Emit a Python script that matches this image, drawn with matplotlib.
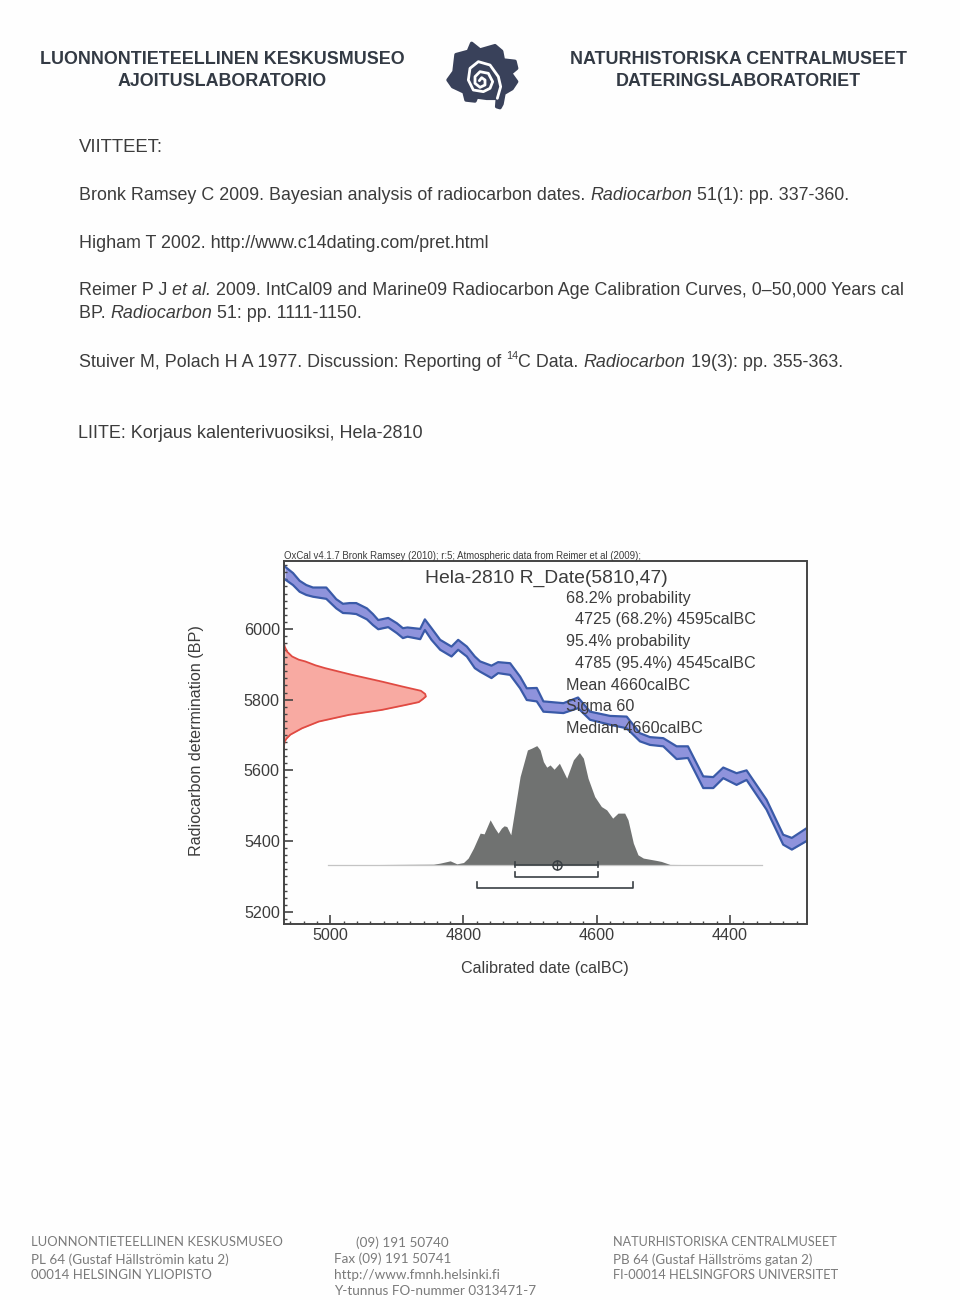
import numpy as np
import matplotlib
matplotlib.use('Agg')
import matplotlib.pyplot as plt
from matplotlib.ticker import MultipleLocator

plt.rcParams['font.family'] = ['Liberation Sans', 'DejaVu Sans']

# calibration curve, upper and lower edge of the band
curve_bc = [5068, 5056, 5046, 5036, 5026, 5006, 4991, 4981, 4971, 4961, 4945, 4936, 4928, 4913, 4900, 4891, 4884, 4865, 4858,
            4848, 4835, 4818, 4808, 4795, 4783, 4775, 4758, 4748, 4730, 4715, 4705, 4690, 4680, 4650, 4628, 4610,
            4580, 4555, 4535, 4520, 4500, 4480, 4463, 4440, 4425, 4410, 4390, 4375, 4345, 4320, 4307, 4286]
curve_top = [6176, 6158, 6136, 6124, 6117, 6117, 6084, 6071, 6073, 6073, 6058, 6042, 6025, 6031, 6016, 6002, 6004, 6000, 6027,
             6002, 5969, 5950, 5969, 5950, 5922, 5908, 5896, 5906, 5903, 5865, 5832, 5833, 5795, 5790, 5806, 5766,
             5754, 5752, 5705, 5694, 5691, 5668, 5668, 5583, 5581, 5608, 5592, 5600, 5517, 5418, 5409, 5435]
curve_low = [6140, 6124, 6105, 6096, 6091, 6085, 6058, 6045, 6044, 6042, 6027, 6011, 5999, 6005, 5988, 5974, 5978, 5971, 5997,
             5969, 5941, 5922, 5941, 5922, 5889, 5879, 5861, 5875, 5870, 5832, 5799, 5795, 5766, 5762, 5776, 5743,
             5729, 5719, 5682, 5672, 5668, 5632, 5635, 5550, 5550, 5578, 5559, 5573, 5489, 5390, 5376, 5399]

# radiocarbon date on the y axis
date_bp = [5960, 5950, 5936, 5922, 5913, 5908, 5897, 5889, 5870, 5851, 5837, 5825, 5816, 5809, 5802, 5793, 5785,
           5771, 5757, 5738, 5719, 5701, 5690, 5682, 5672, 5663]
date_prob = [0, .005, .021, .057, .104, .15, .222, .29, .48, .69, .835, .965, .995, 1, .98, .95, .858,
             .69, .458, .245, .127, .045, .018, .005, .001, 0]

# calibrated distribution
post_bc = [5004, 4845, 4835, 4820, 4810, 4800, 4793, 4785, 4775, 4769, 4760, 4753, 4748, 4743, 4739, 4735,
           4729, 4723, 4715, 4704, 4698, 4690, 4685, 4680, 4675, 4670, 4664, 4656, 4645, 4635, 4626, 4620,
           4613, 4603, 4593, 4585, 4576, 4568, 4558, 4553, 4545, 4538, 4530, 4510, 4503, 4490, 4460, 4352]
post_prob = [0, .005, .014, .033, .008, .019, .056, .139, .264, .258, .375, .306, .264, .306, .325, .319,
             .25, .458, .736, .958, .972, .994, .958, .86, .814, .833, .797, .847, .722, .875, .936, .889,
             .722, .569, .486, .458, .389, .431, .431, .375, .181, .083, .056, .036, .028, .003, .002, 0]

range_68 = [4722, 4598]
range_95 = [4780, 4546]
mean_bc = 4660

stats = ['68.2% probability', '  4725 (68.2%) 4595calBC', '95.4% probability', '  4785 (95.4%) 4545calBC',
         'Mean 4660calBC', 'Sigma 60', 'Median 4660calBC']

W, H = 960, 1300
TXT = '#3c3c3c'

fig = plt.figure(figsize=(9.6, 13), dpi=100, facecolor='#fefefe')


def put(x, y, s, size=13, color=TXT, **kw):
    return fig.text(x / W, 1 - y / H, s, fontsize=size, color=color, va='center', **kw)


def put_parts(x, y, parts, size=12.92):
    # parts are (text, style), drawn one after the other
    rend = fig.canvas.get_renderer()
    for s, style in parts:
        if style == 'sup':
            t = put(x, y - 6, s, size=size * 0.6)
        else:
            t = put(x, y, s, size=size, style=style)
        x = t.get_window_extent(rend).x1


# header
HEAD = '#333a44'
put(222, 60, 'LUONNONTIETEELLINEN KESKUSMUSEO', size=12.9, weight='bold', ha='center', color=HEAD)
put(222, 81, 'AJOITUSLABORATORIO', size=12.9, weight='bold', ha='center', color=HEAD)
put(738, 60, 'NATURHISTORISKA CENTRALMUSEET', size=12.9, weight='bold', ha='center', color=HEAD)
put(738, 81, 'DATERINGSLABORATORIET', size=12.9, weight='bold', ha='center', color=HEAD)

# logo
logo = fig.add_axes([0, 0, 1, 1], facecolor='none')
logo.set_xlim(0, W)
logo.set_ylim(H, 0)
logo.axis('off')
edge_x = np.array([155, 180, 225, 245, 250, 285, 290, 272, 290, 276, 252, 246, 240, 230, 232, 200, 170, 165, 138, 132, 98, 84, 102, 108, 145])
edge_y = np.array([40, 60, 47, 64, 90, 94, 115, 130, 155, 176, 190, 222, 233, 230, 205, 205, 201, 213, 210, 186, 170, 150, 125, 74, 64])
logo.fill(420 + edge_x / 3, 30 + edge_y / 3, facecolor='#39415a', edgecolor='#39415a', lw=2.5, joinstyle='round')
sp_x = np.array([178, 185, 195, 195, 180, 165, 165, 180, 205, 218, 210, 190, 160, 145, 150, 175, 210, 235, 242, 232])
sp_y = np.array([152, 143, 150, 165, 172, 160, 140, 125, 130, 155, 175, 185, 180, 150, 115, 95, 105, 140, 170, 205])
logo.plot(420 + sp_x / 3, 30 + sp_y / 3, color='white', lw=2, solid_capstyle='round', solid_joinstyle='round')

# references
put(79, 148, 'VIITTEET:', size=13.3)
put_parts(79, 195.5, [('Bronk Ramsey C 2009. Bayesian analysis of radiocarbon dates. ', 'normal'),
                      ('Radiocarbon', 'italic'), (' 51(1): pp. 337-360.', 'normal')])
put_parts(79, 243, [('Higham T 2002. http://www.c14dating.com/pret.html', 'normal')])
put_parts(79, 290.5, [('Reimer P J ', 'normal'), ('et al.', 'italic'),
                      (' 2009. IntCal09 and Marine09 Radiocarbon Age Calibration Curves, 0–50,000 Years cal', 'normal')])
put_parts(79, 314, [('BP. ', 'normal'), ('Radiocarbon', 'italic'), (' 51: pp. 1111-1150.', 'normal')])
put_parts(79, 362, [('Stuiver M, Polach H A 1977. Discussion: Reporting of ', 'normal'), ('14', 'sup'), ('C Data. ', 'normal'),
                    ('Radiocarbon', 'italic'), (' 19(3): pp. 355-363.', 'normal')])
put(78, 433, 'LIITE: Korjaus kalenterivuosiksi, Hela-2810', size=12.95)

# chart
ax = fig.add_axes([284 / W, 1 - 923.5 / H, 522.5 / W, 362.5 / H], facecolor='none')
ax.set_xlim(5069.5, 4285)
ax.set_ylim(5167, 6192)

ax.fill_between(curve_bc, curve_low, curve_top, color='#8f93dc', lw=0)
ax.plot(curve_bc, curve_top, color='#3a5aa8', lw=1.6, solid_joinstyle='round')
ax.plot(curve_bc, curve_low, color='#3a5aa8', lw=1.6, solid_joinstyle='round')

# likelihood is scaled to about a quarter of the x range
left = ax.get_xlim()[0]
red_x = left - np.array(date_prob) * 213
ax.fill_betweenx(date_bp, left, red_x, color='#f8aaa2', lw=0)
ax.plot(red_x, date_bp, color='#e04a42', lw=1.3, solid_joinstyle='round')

# distribution sits on a baseline in the lower part of the plot
base = 5333
post_y = base + np.array(post_prob) * 339
ax.plot([post_bc[0], post_bc[-1]], [base, base], color='#c4c4c4', lw=0.9)
ax.fill_between(post_bc, base, post_y, color='#707271', lw=0)

# range brackets
bar = '#3a4044'
ax.plot(range_68, [base, base], color=bar, lw=1.2)
ax.plot([range_68[0]] * 2, [base - 7, base + 7], color=bar, lw=1.2)
ax.plot([range_68[1]] * 2, [base - 7, base + 7], color=bar, lw=1.2)
ax.plot([range_68[0], range_68[0], range_68[1], range_68[1]], [5313, 5299, 5299, 5313], color=bar, lw=1.2)
ax.plot([range_95[0], range_95[0], range_95[1], range_95[1]], [5284, 5266, 5266, 5284], color=bar, lw=1.2)
ax.plot([mean_bc], [base], marker='o', ms=6.5, mfc='none', mec=bar, mew=1.1)
ax.plot([mean_bc], [base], marker='+', ms=6.5, color=bar, mew=0.9)

for sp in ['left', 'bottom', 'top', 'right']:
    ax.spines[sp].set_color('#444444')
    ax.spines[sp].set_linewidth(1.4)
ax.xaxis.set_major_locator(MultipleLocator(200))
ax.xaxis.set_minor_locator(MultipleLocator(20))
ax.yaxis.set_major_locator(MultipleLocator(200))
ax.yaxis.set_minor_locator(MultipleLocator(20))
ax.tick_params(which='major', direction='in', length=6.5, width=1.2, color='#444444',
               labelsize=11.6, labelcolor=TXT, pad=3)
ax.tick_params(which='minor', direction='in', length=2.5, width=1, color='#444444')
ax.tick_params(axis='x', which='major', pad=3)

put(196, 741, 'Radiocarbon determination (BP)', size=11.6, rotation=90, ha='center')
put(545, 969, 'Calibrated date (calBC)', size=11.6, ha='center')
put(284, 555.5, 'OxCal v4.1.7 Bronk Ramsey (2010); r:5; Atmospheric data from Reimer et al (2009);', size=6.97)
put(546, 578, 'Hela-2810 R_Date(5810,47)', size=13.9, ha='center')
for i, line in enumerate(stats):
    put(566.5, 598 + i * 21.8, line, size=11.6)

# footer
FOOT = '#7a7a7a'
for y, s, fs in zip([1242, 1259.5, 1275], ['LUONNONTIETEELLINEN KESKUSMUSEO', 'PL 64 (Gustaf Hällströmin katu 2)', '00014 HELSINGIN YLIOPISTO'], [9.37, 9.7, 9.55]):
    put(31, y, s, size=fs, color=FOOT, family='Lato')
for y, x, s in zip([1243, 1259, 1275, 1291], [356, 334, 334, 334],
                   ['(09) 191 50740', 'Fax (09) 191 50741', 'http://www.fmnh.helsinki.fi', 'Y-tunnus FO-nummer 0313471-7']):
    put(x, y, s, size=9.7, color=FOOT, family='Lato')
for y, s, fs in zip([1242, 1259.5, 1275], ['NATURHISTORISKA CENTRALMUSEET', 'PB 64 (Gustaf Hällströms gatan 2)', 'FI-00014 HELSINGFORS UNIVERSITET'], [9.05, 9.6, 9.3]):
    put(613, y, s, size=fs, color=FOOT, family='Lato')

fig.savefig('out.png', dpi=100, facecolor=fig.get_facecolor())
